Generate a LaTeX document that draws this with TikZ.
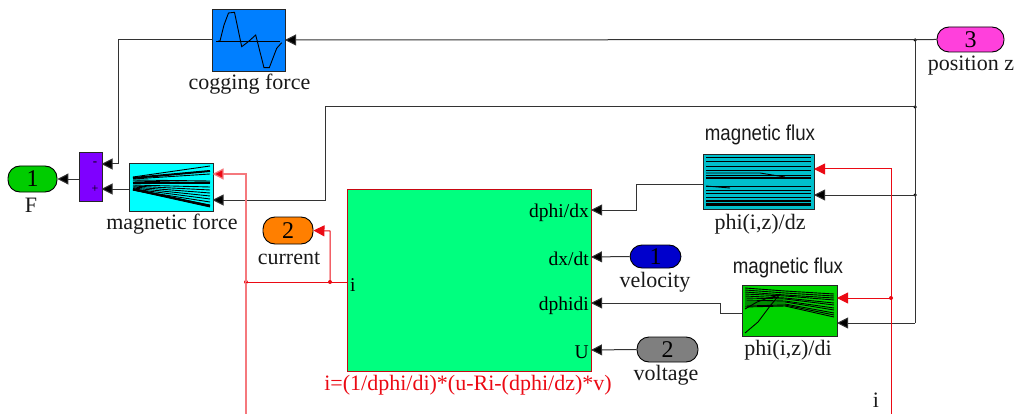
\documentclass[tikz,border=0pt]{standalone}
\usepackage{fontspec}
\setmainfont{Liberation Serif}
\newfontfamily\arialf[FakeStretch=0.87]{Liberation Sans}
\usetikzlibrary{arrows.meta}
\definecolor{cogblue}{RGB}{0,127,255}
\definecolor{sumviolet}{RGB}{127,0,255}
\definecolor{mfcyan}{RGB}{0,255,255}
\definecolor{bigspring}{RGB}{0,255,127}
\definecolor{dzteal}{RGB}{0,191,204}
\definecolor{digreen}{RGB}{0,212,0}
\definecolor{outgreen}{RGB}{0,204,0}
\definecolor{curorange}{RGB}{255,127,0}
\definecolor{velblue}{RGB}{0,0,204}
\definecolor{volgrey}{RGB}{127,127,127}
\definecolor{pospink}{RGB}{255,64,220}
\definecolor{sigred}{RGB}{235,10,20}
\definecolor{pale}{RGB}{245,120,125}
\tikzset{
  x=1pt,y=-1pt,
  blockbox/.style={draw=black!85,line width=1pt,inner sep=0pt,anchor=north west},
  pill/.style={draw=black,line width=0.9pt,rounded corners=12pt,inner sep=0pt,font=\fontsize{24}{24}\selectfont},
  lab/.style={inner sep=0pt,font=\fontsize{22}{22}\selectfont,text=black!90},
  sanslab/.style={inner sep=0pt,font=\arialf\fontsize{21.5}{22}\selectfont,text=black!90},
  portlab/.style={inner sep=0pt,font=\fontsize{19.5}{20}\selectfont,text=black},
  sig/.style={draw=black!80,line width=1pt,-{Triangle[length=11pt,width=11pt,fill=black]}},
  wire/.style={draw=black!80,line width=1pt},
  rsig/.style={draw=sigred,line width=1pt,-{Triangle[length=11pt,width=11pt,fill=sigred]}},
  rwire/.style={draw=sigred,line width=1pt},
  psig/.style={draw=pale,line width=1.2pt,-{Triangle[length=11pt,width=11pt,fill=sigred]}},
  dotb/.style={circle,fill=black,inner sep=0pt,minimum size=3.5pt},
  dotr/.style={circle,fill=sigred,inner sep=0pt,minimum size=4pt},
  plotl/.style={draw=black,line width=0.9pt},
}
\begin{document}
\begin{tikzpicture}
\useasboundingbox (0,0) rectangle (1024,414);
% blocks
\node[blockbox,fill=cogblue,minimum width=73pt,minimum height=62pt] (cog) at (212,9) {};
\node[blockbox,fill=sumviolet,minimum width=23pt,minimum height=49pt] (sum) at (78.5,152) {};
\node[blockbox,fill=mfcyan,minimum width=83.5pt,minimum height=48pt] (mf) at (129,163) {};
\node[blockbox,draw=sigred!85!black,fill=bigspring,minimum width=244.5pt,minimum height=182.5pt] (big) at (346.5,188.5) {};
\node[blockbox,fill=dzteal,minimum width=111pt,minimum height=55pt] (dz) at (703,154) {};
\node[blockbox,fill=digreen,minimum width=95pt,minimum height=51pt] (di) at (742,285) {};
% pills
\node[pill,fill=outgreen,minimum width=49pt,minimum height=26pt] (o1) at (32.5,179) {1};
\node[pill,fill=curorange,minimum width=50pt,minimum height=27pt] (o2) at (288,230.5) {2};
\node[pill,fill=velblue,minimum width=51pt,minimum height=23pt] (i1) at (655.5,256.5) {1};
\node[pill,fill=volgrey,minimum width=61pt,minimum height=25pt] (i2) at (667.5,349.5) {2};
\node[pill,fill=pospink,minimum width=67pt,minimum height=25pt] (i3) at (970.5,39.5) {3};
% labels
\node[lab] (lcog) at (249.5,84) {cogging force};
\node[lab] (lmf) at (172,224) {magnetic force};
\node[lab] (lF) at (31,205) {F};
\node[lab] (lcur) at (289,258) {current};
\node[lab] (lvel) at (655,282) {velocity};
\node[lab] (lvol) at (666,375) {voltage};
\node[lab] (lpos) at (971,66) {position z};
\node[lab] (ldz) at (760,224) {phi(i,z)/dz};
\node[lab] (ldi) at (788,350) {phi(i,z)/di};
\node[lab] (li) at (876,400) {i};
\node[sanslab] (ffz) at (760,135) {magnetic flux};
\node[sanslab] (ffi) at (788,268) {magnetic flux};
\node[lab,text=sigred] (leq) at (468,385) {i=(1/dphi/di)*(u-Ri-(dphi/dz)*v)};
% port labels
\node[portlab,anchor=east] (p1) at (589,213) {dphi/dx};
\node[portlab,anchor=east] (p2) at (589,259) {dx/dt};
\node[portlab,anchor=east] (p3) at (589,306) {dphidi};
\node[portlab,anchor=east] (p4) at (589,352) {U};
\node[portlab,anchor=west] (p5) at (350,285) {i};
\node[inner sep=0pt,font=\fontsize{13}{13}\selectfont] (sm) at (95,164) {-};
\node[inner sep=0pt,font=\fontsize{12}{12}\selectfont] (sp) at (95,189) {+};
% port coordinates
\coordinate (cogin) at (285,40);
\coordinate (cogout) at (212,40);
\coordinate (sumin1) at (101.5,164);
\coordinate (sumin2) at (101.5,189);
\coordinate (sumout) at (78.5,179);
\coordinate (mfin1) at (212.5,174);
\coordinate (mfin2) at (212.5,200);
\coordinate (mfout) at (129,189);
\coordinate (bigi) at (346.5,282);
\coordinate (bigdx) at (591,210);
\coordinate (bigdt) at (591,257);
\coordinate (bigdi) at (591,303);
\coordinate (bigu) at (591,350);
\coordinate (dzin1) at (814,169);
\coordinate (dzin2) at (814,195);
\coordinate (dzout) at (703,184.5);
\coordinate (diin1) at (837,298);
\coordinate (diin2) at (837,323);
\coordinate (diout) at (742,313);
\coordinate (rbot) at (891,414);
\coordinate (lbot) at (246,414);
% junctions
\node[dotb] (j1) at (915,40) {};
\node[dotb] (j2) at (915,107) {};
\node[dotb] (j3) at (915,195) {};
\node[dotr] (j4) at (891,298) {};
\node[dotr] (j5) at (246,282) {};
\node[dotr] (j6) at (330,282) {};
% black connectors
\draw[sig] (i3.west) -- (cogin);
\draw[wire] (j1.center) -- (915,323) coordinate (jc);
\draw[sig] (jc) -- (diin2);
\draw[sig] (j3.center) -- (dzin2);
\draw[sig] (j2.center) -- (325,107) -- (325,200) -- (mfin2);
\draw[sig] (cogout) -- (118,40) -- (118,164) -- (sumin1);
\draw[sig] (mfout) -- (sumin2);
\draw[sig] (sumout) -- (o1.east);
\draw[sig] (dzout) -- (636.5,184.5) -- (636.5,210) -- (bigdx);
\draw[sig] (i1.west) -- (bigdt);
\draw[sig] (diout) -- (720,313) -- (720,303) -- (bigdi);
\draw[sig] (i2.west) -- (bigu);
% red connectors
\draw[rsig] (rbot) -- (891,169) -- (dzin1);
\draw[rsig] (j4.center) -- (diin1);
\draw[psig] (lbot) -- (246,174) -- (mfin1);
\draw[rwire] (bigi) -- (j5.center);
\draw[rsig] (j6.center) -- (330,231) -- (o2.east);
% cogging plot
\draw[plotl] (216,41.5) -- (280,41.5);
\draw[plotl] (218,41) -- (220,41) -- (224,25) -- (228.5,13) -- (234.5,12.3) -- (241.7,46.7) -- (248.3,41.7) -- (255.7,35) -- (264,67.7) -- (269.3,67.7) -- (276.7,48.3) -- (281.7,42.7);
% magnetic force fan
\foreach \a/\b in {177/166,178/171,179/174,180/181,181/183,183/182,185/187,186/190,187/193,188/196,189/199,190/202,190/205,190/207}
  \draw[plotl] (133,\a) -- (210,\b);
\draw[draw=black,line width=2pt] (133,178) -- (210,171);
\draw[draw=black,line width=2pt] (133,182.5) -- (210,182.5);
\draw[draw=black,line width=2pt] (133,189) -- (210,206);
% dz plot
\foreach \y in {157.5,161.5,166,170.5,175,186,190,193,197,201,205}
  \draw[plotl] (706,\y) -- (811,\y);
\draw[draw=black,line width=2.6pt] (706,178) -- (811,178);
\draw[draw=black,line width=1.2pt] (706,200.5) -- (811,200.5);
\draw[draw=black,line width=1.6pt] (706,204) -- (811,204);
\draw[plotl] (706,173) -- (760,173) -- (785,177);
\draw[plotl] (706,186) -- (730,188);
% di plot
\foreach \a/\b/\c in {288/291/294,290/293/296,292/295/298,294/296/300,296/298/303,298/299/305,300/301/308,302/302/310,304/304/313,306/305/315,307/306/317}
  \draw[plotl] (745,\a) -- (785,\b) -- (834,\c);
\draw[plotl] (745,309) -- (757,302) -- (768,298) -- (780,295);
\draw[plotl] (745,333) -- (758,322) -- (770,306) -- (780,294);
\end{tikzpicture}
\end{document}
